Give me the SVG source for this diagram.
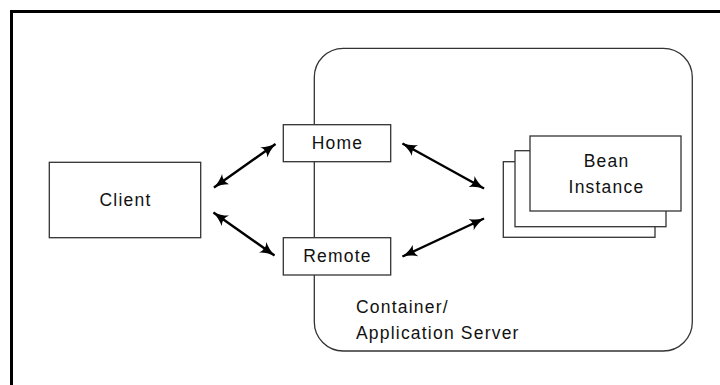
<svg xmlns="http://www.w3.org/2000/svg" width="720" height="385" viewBox="0 0 720 385">
<defs>
<style>
.box{fill:#fff;stroke:#333;stroke-width:1.3}
.lbl{font-family:"Liberation Sans",Arial,sans-serif;font-size:17.5px;fill:#111;letter-spacing:1.2px}
.arr{stroke:#000;stroke-width:2.4;fill:none;marker-start:url(#ah);marker-end:url(#ah)}
</style>
<marker id="ah" viewBox="0 0 14 12" refX="13.5" refY="6" markerWidth="15" markerHeight="13" markerUnits="userSpaceOnUse" orient="auto-start-reverse">
<path d="M0,0 Q5,4 14,6 Q5,8 0,12 Q4,6 0,0 z" fill="#000"/>
</marker>
</defs>
<rect x="11.5" y="11.5" width="720" height="390" fill="#fff" stroke="#000" stroke-width="3"/>
<g id="container">
<rect x="314.3" y="48.3" width="378" height="302.7" rx="29" ry="29" fill="none" stroke="#333" stroke-width="1.3"/>
<text class="lbl" x="356" y="313">Container/</text>
<text class="lbl" x="356" y="339">Application Server</text>
</g>
<g id="connectors">
<line class="arr" x1="214" y1="187.5" x2="275.5" y2="144"/>
<line class="arr" x1="213.5" y1="212.5" x2="274.5" y2="255.5"/>
<line class="arr" x1="402.5" y1="143.5" x2="484" y2="188.5"/>
<line class="arr" x1="402.5" y1="256.5" x2="484" y2="218.5"/>
</g>
<g id="client">
<rect class="box" x="49.3" y="162.3" width="151.4" height="75.4"/>
<text class="lbl" x="125.5" y="206" text-anchor="middle">Client</text>
</g>
<g id="home">
<rect class="box" x="283.3" y="124.7" width="107.4" height="37"/>
<text class="lbl" x="337.5" y="149" text-anchor="middle">Home</text>
</g>
<g id="remote">
<rect class="box" x="283.3" y="237.7" width="107.4" height="37.3"/>
<text class="lbl" x="337.5" y="262" text-anchor="middle">Remote</text>
</g>
<g id="bean">
<rect class="box" x="503.3" y="161.7" width="151.7" height="75.6"/>
<rect class="box" x="515" y="150.7" width="151" height="76"/>
<rect class="box" x="530" y="136" width="151" height="75"/>
<text class="lbl" x="606.5" y="167" text-anchor="middle">Bean</text>
<text class="lbl" x="606.5" y="193" text-anchor="middle">Instance</text>
</g>
</svg>
